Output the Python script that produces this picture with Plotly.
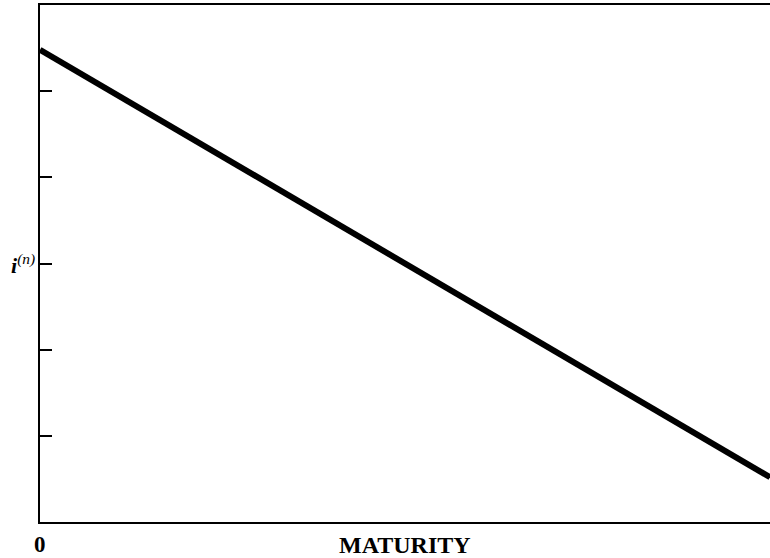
import plotly.graph_objects as go

# straight declining yield curve, i(n) against maturity
maturity = [0, 10]
rate = [5.48, 0.52]
y_ticks = [1, 2, 3, 4, 5]

serif = "Liberation Serif"

fig = go.Figure()
fig.add_trace(go.Scatter(x=maturity, y=rate, mode="lines",
                         line=dict(color="black", width=6), showlegend=False))

fig.update_xaxes(range=[0, 10], showline=True, linecolor="black", linewidth=2,
                 mirror=True, showgrid=False, zeroline=False, showticklabels=False,
                 ticks="", automargin=False)
fig.update_yaxes(range=[0, 6], showline=True, linecolor="black", linewidth=2,
                 showgrid=False, zeroline=False, tickvals=y_ticks, ticks="inside",
                 ticklen=12, tickwidth=2, tickcolor="black", showticklabels=False,
                 automargin=False)

fig.add_annotation(xref="paper", yref="y", x=0, y=3, xanchor="right", xshift=-3,
                   showarrow=False, text="<b><i>i</i></b><sup><i>(n)</i></sup>",
                   font=dict(family=serif, size=22, color="black"))
fig.add_annotation(xref="x", yref="paper", x=0, y=0, yanchor="top", yshift=-8,
                   showarrow=False, text="<b>0</b>",
                   font=dict(family=serif, size=23, color="black"))
fig.add_annotation(xref="paper", yref="paper", x=0.5, y=0, yanchor="top", yshift=-8,
                   showarrow=False, text="<b>MATURITY</b>",
                   font=dict(family=serif, size=24, color="black"))

fig.update_layout(width=770, height=558, plot_bgcolor="white", paper_bgcolor="white",
                  margin=dict(l=40, r=0, t=5, b=36))

# page body margin would push the figure 8px down/right
fig.write_html("out.html", config={"displayModeBar": False},
               post_script="document.body.style.margin='0';document.body.style.overflow='hidden';")
